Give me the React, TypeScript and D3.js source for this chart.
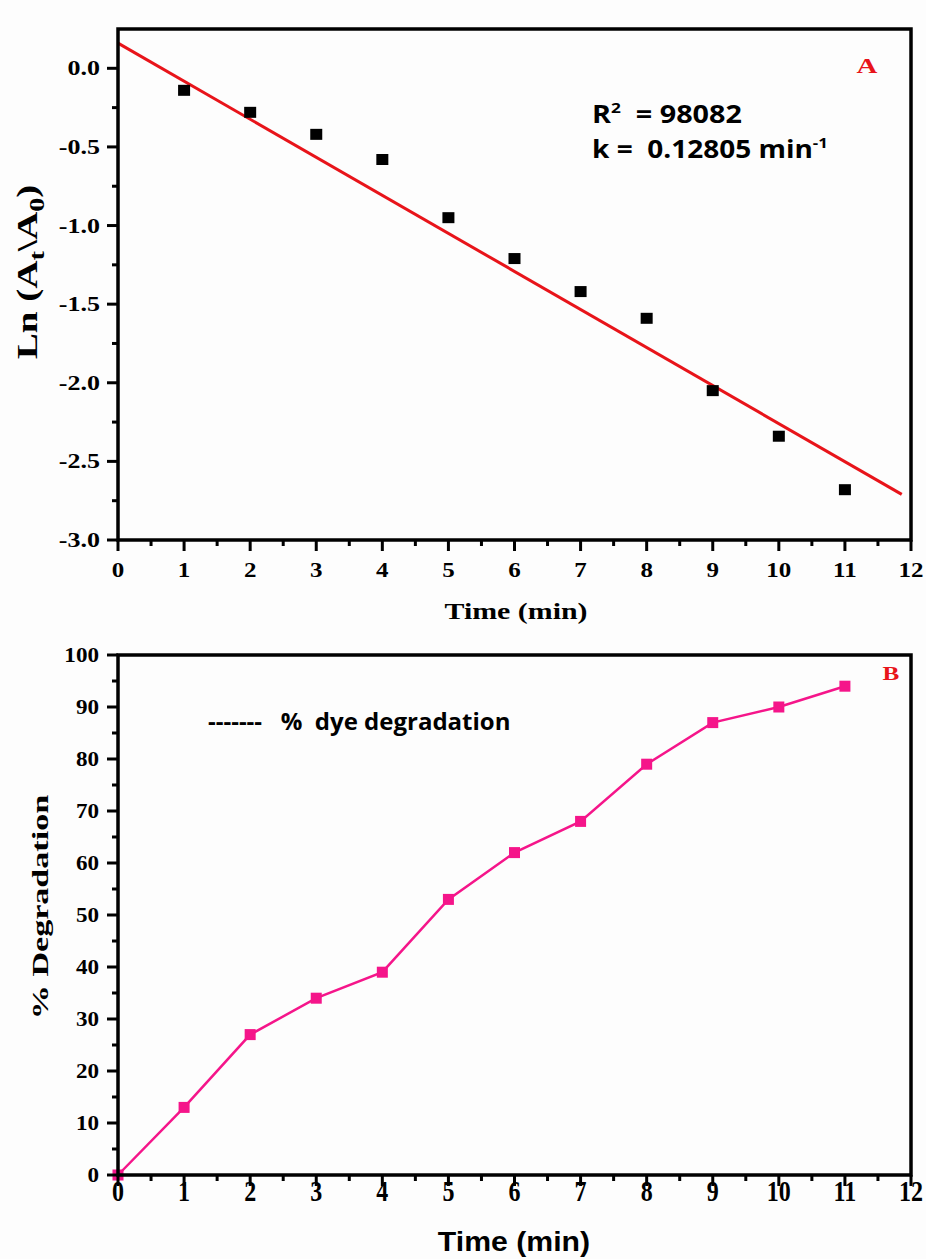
import React, { useEffect, useRef } from 'react';
import * as d3 from 'd3';

// Panel A: ln(At/A0) vs time
const timeA = [1, 2, 3, 4, 5, 6, 7, 8, 9, 10, 11];
const lnValues = [-0.14, -0.28, -0.42, -0.58, -0.95, -1.21, -1.42, -1.59, -2.05, -2.34, -2.68];
const fitStart = [0, 0.16];
const fitEnd = [11.86, -2.71];

// Panel B: % degradation vs time
const timeB = [0, 1, 2, 3, 4, 5, 6, 7, 8, 9, 10, 11];
const degradation = [0, 13, 27, 34, 39, 53, 62, 68, 79, 87, 90, 94];

const xTicks = [0, 1, 2, 3, 4, 5, 6, 7, 8, 9, 10, 11, 12];
const yTicksA = [0, -0.5, -1, -1.5, -2, -2.5, -3];
const yTicksB = [0, 10, 20, 30, 40, 50, 60, 70, 80, 90, 100];

const W = 926;
const H = 1259;
const serif = '"Liberation Serif", "Times New Roman", serif';
const sans = '"Open Sans", "Liberation Sans", sans-serif';
const red = '#e8141a';
const pink = '#f5158a';

// text placed with a local horizontal stretch (the source fonts are wide)
const label = (g, x, y, txt, opts) => {
    const { size, sx = 1, rot = 0, anchor = 'middle', family = serif, fill = '#000' } = opts;
    return g.append('text')
        .attr('transform', `translate(${x},${y}) rotate(${rot}) scale(${sx},1)`)
        .attr('text-anchor', anchor)
        .attr('font-family', family)
        .attr('font-weight', 'bold')
        .attr('font-size', size)
        .attr('fill', fill)
        .text(txt);
};

const App = () => {
    const svgRef = useRef(null);

    useEffect(() => {
        const svg = d3.select(svgRef.current);
        svg.selectAll('*').remove();

        const left = 118;
        const right = 911;
        const minorX = d3.range(0.5, 12, 1);

        // ---------- Panel A ----------
        const topA = 29;
        const botA = 540;
        const xA = d3.scaleLinear().domain([0, 12]).range([left, right]);
        const yA = d3.scaleLinear().domain([-3, 0.25]).range([botA, topA]);
        const gA = svg.append('g');

        gA.append('line')
            .attr('x1', xA(fitStart[0])).attr('y1', yA(fitStart[1]))
            .attr('x2', xA(fitEnd[0])).attr('y2', yA(fitEnd[1]))
            .attr('stroke', red).attr('stroke-width', 3);

        gA.selectAll('.pt')
            .data(timeA)
            .enter()
            .append('rect')
            .attr('x', (d) => xA(d) - 6)
            .attr('y', (d, i) => yA(lnValues[i]) - 5.5)
            .attr('width', 12)
            .attr('height', 11)
            .attr('fill', '#000');

        gA.selectAll('.mx')
            .data(minorX)
            .enter()
            .append('line')
            .attr('x1', (d) => xA(d)).attr('x2', (d) => xA(d))
            .attr('y1', botA).attr('y2', botA + 6)
            .attr('stroke', '#000').attr('stroke-width', 3);
        gA.selectAll('.Mx')
            .data(xTicks)
            .enter()
            .append('line')
            .attr('x1', (d) => xA(d)).attr('x2', (d) => xA(d))
            .attr('y1', botA).attr('y2', botA + 11)
            .attr('stroke', '#000').attr('stroke-width', 3);
        xTicks.forEach((d) => label(gA, xA(d), 577, String(d), { size: 20, sx: 1.25 }));

        const minorYA = d3.range(-2.75, 0.25, 0.5);
        gA.selectAll('.my')
            .data(minorYA)
            .enter()
            .append('line')
            .attr('x1', left - 6).attr('x2', left)
            .attr('y1', (d) => yA(d)).attr('y2', (d) => yA(d))
            .attr('stroke', '#000').attr('stroke-width', 3);
        gA.selectAll('.My')
            .data(yTicksA)
            .enter()
            .append('line')
            .attr('x1', left - 11).attr('x2', left)
            .attr('y1', (d) => yA(d)).attr('y2', (d) => yA(d))
            .attr('stroke', '#000').attr('stroke-width', 3);
        yTicksA.forEach((d) =>
            label(gA, 100, yA(d) + 7, d3.format('.1f')(d).replace('−', '-'), { size: 20, sx: 1.3, anchor: 'end' })
        );

        gA.append('rect')
            .attr('x', left).attr('y', topA)
            .attr('width', right - left).attr('height', botA - topA)
            .attr('fill', 'none').attr('stroke', '#000').attr('stroke-width', 3.5);

        label(gA, 516, 619, 'Time (min)', { size: 23, sx: 1.3 });

        const yLabA = label(gA, 37, 272, '', { size: 29, sx: 1.35, rot: -90 });
        yLabA.append('tspan').text('Ln (A');
        yLabA.append('tspan').attr('baseline-shift', '-30%').attr('font-size', 21).text('t');
        yLabA.append('tspan').text('\\A');
        yLabA.append('tspan').attr('baseline-shift', '-30%').attr('font-size', 21).text('0');
        yLabA.append('tspan').text(')');

        label(gA, 867, 73, 'A', { size: 20, sx: 1.45, fill: red });

        const r2 = label(gA, 592, 123, '', { size: 25, sx: 1.15, anchor: 'start', family: sans })
            .attr('xml:space', 'preserve');
        r2.append('tspan').text('R');
        r2.append('tspan').attr('baseline-shift', 'super').attr('font-size', 15).text('2');
        r2.append('tspan').text('  = 98082');

        const kt = label(gA, 592, 158, '', { size: 25, sx: 1.12, anchor: 'start', family: sans })
            .attr('xml:space', 'preserve');
        kt.append('tspan').text('k =  0.12805 min');
        kt.append('tspan').attr('baseline-shift', 'super').attr('font-size', 15).text('-1');

        // ---------- Panel B ----------
        const topB = 655;
        const botB = 1175;
        const xB = d3.scaleLinear().domain([0, 12]).range([left, right]);
        const yB = d3.scaleLinear().domain([0, 100]).range([botB, topB]);
        const gB = svg.append('g');

        const line = d3.line()
            .x((d) => xB(d[0]))
            .y((d) => yB(d[1]));
        gB.append('path')
            .datum(timeB.map((t, i) => [t, degradation[i]]))
            .attr('d', line)
            .attr('fill', 'none')
            .attr('stroke', pink)
            .attr('stroke-width', 2.5);

        gB.selectAll('.pb')
            .data(timeB)
            .enter()
            .append('rect')
            .attr('x', (d) => xB(d) - 5.5)
            .attr('y', (d, i) => yB(degradation[i]) - 5.5)
            .attr('width', 11)
            .attr('height', 11)
            .attr('fill', pink);

        gB.selectAll('.mx')
            .data(minorX)
            .enter()
            .append('line')
            .attr('x1', (d) => xB(d)).attr('x2', (d) => xB(d))
            .attr('y1', botB).attr('y2', botB + 6)
            .attr('stroke', '#000').attr('stroke-width', 3);
        gB.selectAll('.Mx')
            .data(xTicks)
            .enter()
            .append('line')
            .attr('x1', (d) => xB(d)).attr('x2', (d) => xB(d))
            .attr('y1', botB).attr('y2', botB + 11)
            .attr('stroke', '#000').attr('stroke-width', 3);
        xTicks.forEach((d) => label(gB, xB(d), 1201, String(d), { size: 30, sx: 0.8 }));

        const minorYB = d3.range(5, 100, 10);
        gB.selectAll('.my')
            .data(minorYB)
            .enter()
            .append('line')
            .attr('x1', left - 6).attr('x2', left)
            .attr('y1', (d) => yB(d)).attr('y2', (d) => yB(d))
            .attr('stroke', '#000').attr('stroke-width', 3);
        gB.selectAll('.My')
            .data(yTicksB)
            .enter()
            .append('line')
            .attr('x1', left - 11).attr('x2', left)
            .attr('y1', (d) => yB(d)).attr('y2', (d) => yB(d))
            .attr('stroke', '#000').attr('stroke-width', 3);
        yTicksB.forEach((d) => label(gB, 99, yB(d) + 7, String(d), { size: 22, sx: 1.05, anchor: 'end' }));

        gB.append('rect')
            .attr('x', left).attr('y', topB)
            .attr('width', right - left).attr('height', botB - topB)
            .attr('fill', 'none').attr('stroke', '#000').attr('stroke-width', 3.5);

        label(gB, 514, 1251, 'Time (min)', { size: 27, sx: 1.12, family: '"Liberation Sans", Arial, sans-serif' });

        label(gB, 48, 907, '% Degradation', { size: 24, sx: 1.42, rot: -90 });

        label(gB, 891, 680, 'B', { size: 18, sx: 1.4, fill: red });

        label(gB, 208, 730, '-------   %  dye degradation', { size: 24, anchor: 'start', family: sans })
            .attr('xml:space', 'preserve');
    }, []);

    return (
        <svg
            ref={svgRef}
            width={W}
            height={H}
            style={{ position: 'absolute', left: 0, top: 0, background: '#fdfdfd' }}
        ></svg>
    );
};

export default App;
